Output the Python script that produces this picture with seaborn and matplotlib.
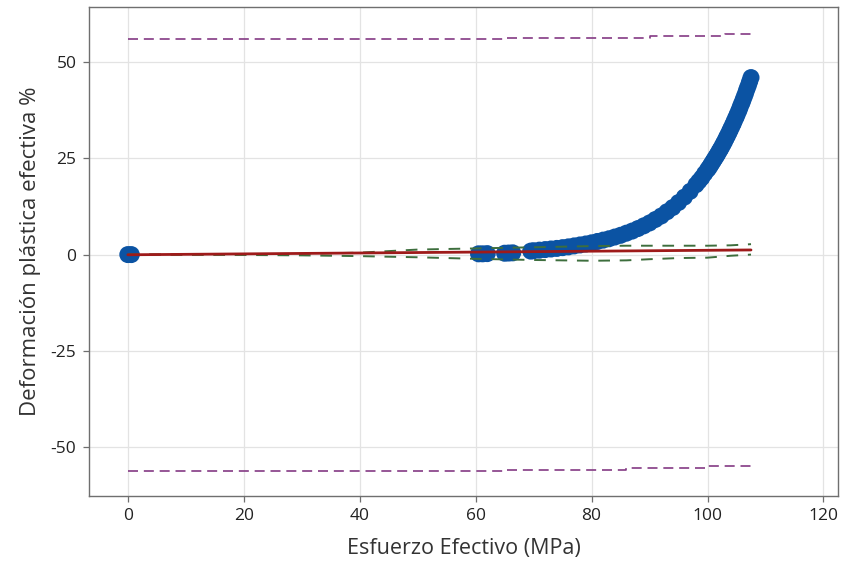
import matplotlib
matplotlib.use("Agg")
import matplotlib.pyplot as plt
import seaborn as sns
import pandas as pd

# ---- data ----
esfuerzo = [0, 0.6, 60.5, 61.2, 62.0, 65.0, 65.7, 66.4,
            69.5, 70, 71, 72, 73, 74, 75, 76, 77, 78, 79, 80, 81, 82, 83, 84, 85,
            86, 87, 88, 89, 90, 91, 92, 93, 94, 95, 96, 97, 98, 98.5, 99, 99.5,
            100, 100.25, 100.5, 100.75, 101, 101.25, 101.5, 101.75, 102, 102.25,
            102.5, 102.75, 103, 103.25, 103.5, 103.75, 104, 104.25, 104.5, 104.75,
            105, 105.25, 105.5, 105.75, 106, 106.25, 106.5, 106.75, 107, 107.25, 107.5]
deformacion = [0, 0, 0.2, 0.2, 0.25, 0.35, 0.4, 0.45,
               0.9, 1.0, 1.15, 1.3, 1.45, 1.6, 1.8, 2.0, 2.25, 2.5, 2.75, 3.05, 3.4,
               3.75, 4.1, 4.55, 5.0, 5.55, 6.1, 6.75, 7.45, 8.2, 9.1, 10.0, 11.1,
               12.2, 13.5, 14.9, 16.4, 18.1, 19.0, 19.9, 21.0,
               22.0, 22.5, 23.1, 23.7, 24.3, 24.9, 25.5, 26.1, 26.8, 27.4,
               28.1, 28.8, 29.5, 30.3, 31.0, 31.8, 32.6, 33.4, 34.2, 35.1,
               35.9, 36.8, 37.7, 38.7, 39.6, 40.6, 41.6, 42.7, 43.7, 44.8, 45.9]

ajuste_x = [0, 107.5]
ajuste_y = [-0.05, 1.2]

ic_x = [0, 20, 30, 40, 50, 60, 70, 80, 86, 90, 95, 100, 104, 107.5]
ic_sup = [0.05, 0.1, 0.2, 0.5, 1.3, 1.6, 1.9, 2.2, 2.3, 2.3, 2.3, 2.3, 2.4, 2.7]
ic_inf = [-0.05, -0.1, -0.2, -0.4, -0.7, -1.1, -1.4, -1.6, -1.5, -1.2, -0.9, -0.8, -0.3, 0.0]

ip_sup_x = [0, 65, 90, 103, 107.5]
ip_sup = [56.0, 56.2, 56.6, 57.1, 57.1]
ip_inf_x = [0, 65, 86, 100, 107.5]
ip_inf = [-56.1, -55.9, -55.4, -54.7, -54.7]

x_ticks = [0, 20, 40, 60, 80, 100, 120]
y_ticks = [-50, -25, 0, 25, 50]

# ---- styling ----
sns.set_theme(style="white")
plt.rcParams["font.family"] = ["Open Sans", "DejaVu Sans"]
plt.rcParams["axes.unicode_minus"] = False

fig = plt.figure(figsize=(8.41, 5.69), dpi=100)
ax = fig.add_axes([0.1058, 0.1283, 0.8906, 0.8594])

df = pd.DataFrame({"x": esfuerzo, "y": deformacion})
sns.scatterplot(data=df, x="x", y="y", ax=ax, color="#0b53a3", s=150,
                edgecolor="none", linewidth=0, zorder=2)

sns.lineplot(x=ajuste_x, y=ajuste_y, ax=ax, color="#9e1a1a", linewidth=2.0,
             zorder=4)
sns.lineplot(x=ic_x, y=ic_sup, ax=ax, color="#3d6e3d", linewidth=1.4,
             linestyle=(0, (6, 5)), zorder=3)
sns.lineplot(x=ic_x, y=ic_inf, ax=ax, color="#3d6e3d", linewidth=1.4,
             linestyle=(0, (6, 5)), zorder=3)
ax.plot(ip_sup_x, ip_sup, color="#843a84", linewidth=1.2,
        linestyle=(0, (6, 3.5)), drawstyle="steps-post", zorder=3)
ax.plot(ip_inf_x, ip_inf, color="#843a84", linewidth=1.2,
        linestyle=(0, (6, 3.5)), drawstyle="steps-post", zorder=3)

ax.set_xlim(-6.7, 122.5)
ax.set_ylim(-62.6, 64.2)
ax.set_xticks(x_ticks)
ax.set_yticks(y_ticks)
ax.grid(True, color="#e3e3e3", linewidth=0.9)
ax.set_axisbelow(True)

for sp in ax.spines.values():
    sp.set_color("#6f6f6f")
    sp.set_linewidth(1.0)
ax.tick_params(axis="both", direction="out", length=4, width=0.9,
               color="#6f6f6f", labelsize=12.5, labelcolor="#222222", pad=5,
               bottom=True, left=True)

ax.set_xlabel("Esfuerzo Efectivo (MPa)", fontsize=15.5, color="#333333", labelpad=10)
ax.set_ylabel("Deformación plástica efectiva %", fontsize=16, color="#333333",
              labelpad=7)

fig.savefig("out.png", dpi=100)
